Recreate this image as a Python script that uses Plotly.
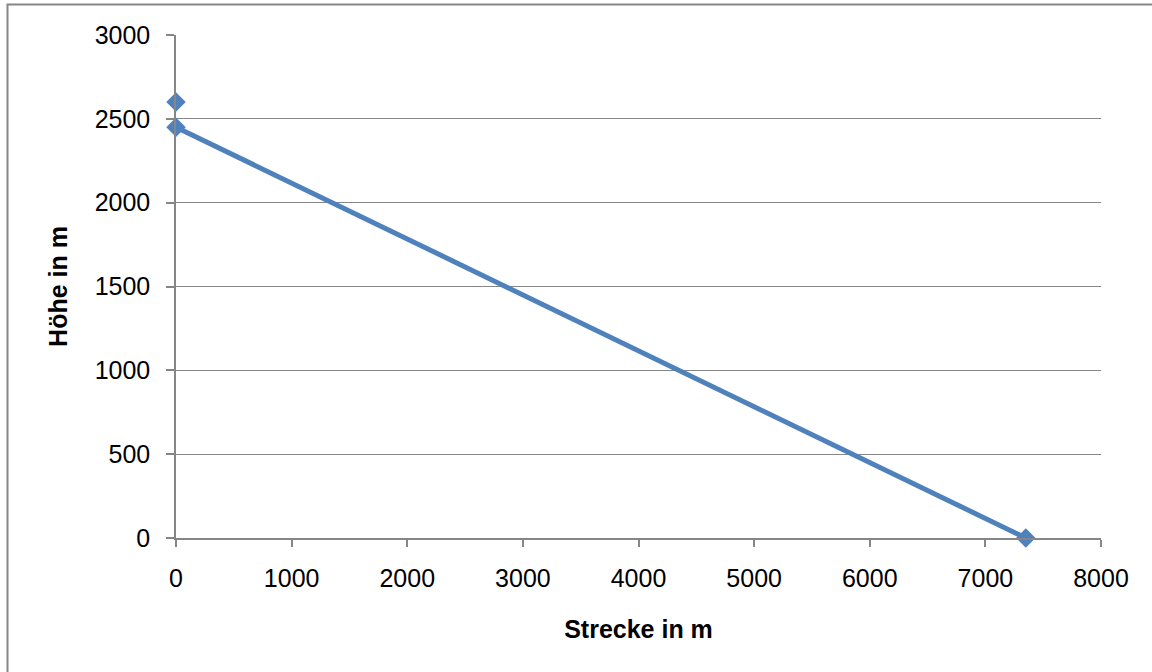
import plotly.graph_objects as go

# Data
peak_x = [0]
peak_y = [2600]
line_x = [0, 7350]
line_y = [2450, 0]

x_ticks = [0, 1000, 2000, 3000, 4000, 5000, 6000, 7000, 8000]
y_ticks = [0, 500, 1000, 1500, 2000, 2500, 3000]

W, H = 1152, 672
L, R, T, B = 176, 51, 35, 134
pw, ph = W - L - R, H - T - B

blue = "#4F81BD"
gray = "#868686"

fig = go.Figure()
fig.add_trace(go.Scatter(x=line_x, y=line_y, mode="lines+markers",
                         line=dict(color=blue, width=5),
                         marker=dict(symbol="diamond", size=15, color=blue),
                         showlegend=False, cliponaxis=False))
fig.add_trace(go.Scatter(x=peak_x, y=peak_y, mode="markers",
                         marker=dict(symbol="diamond", size=15, color=blue),
                         showlegend=False, cliponaxis=False))

font = dict(family="Liberation Sans, Arial, sans-serif", size=25, color="black")

fig.update_layout(
    width=W, height=H,
    margin=dict(l=L, r=R, t=T, b=B),
    paper_bgcolor="white", plot_bgcolor="white",
    font=font,
    xaxis=dict(range=[0, 8000], tickvals=x_ticks, ticktext=[str(v) for v in x_ticks],
               showgrid=False, zeroline=False, showline=True, linecolor=gray, linewidth=1.5,
               ticks="outside", ticklen=7, tickcolor=gray, tickwidth=1.5,
               ticklabelstandoff=10,
               title=dict(text="<b>Strecke in m</b>", font=font, standoff=30)),
    yaxis=dict(range=[0, 3000], tickvals=y_ticks, ticktext=[str(v) for v in y_ticks],
               showgrid=True, gridcolor=gray, gridwidth=1, zeroline=False,
               showline=True, linecolor=gray, linewidth=1.5,
               ticks="outside", ticklen=8, tickcolor=gray, tickwidth=1.5,
               ticklabelstandoff=11,
               title=dict(text="<b>Höhe in m</b>", font=font, standoff=20)),
    shapes=[dict(type="rect", xref="paper", yref="paper",
                 x0=(7.5 - L) / pw, x1=(W + 10 - L) / pw,
                 y0=-(H + 10 - T - ph) / ph, y1=(T + ph - 4.5) / ph,
                 line=dict(color=gray, width=2), layer="below")],
)

fig.write_html("out.html", config={"displayModeBar": False},
               post_script="document.body.style.margin='0';document.body.style.overflow='hidden';")
